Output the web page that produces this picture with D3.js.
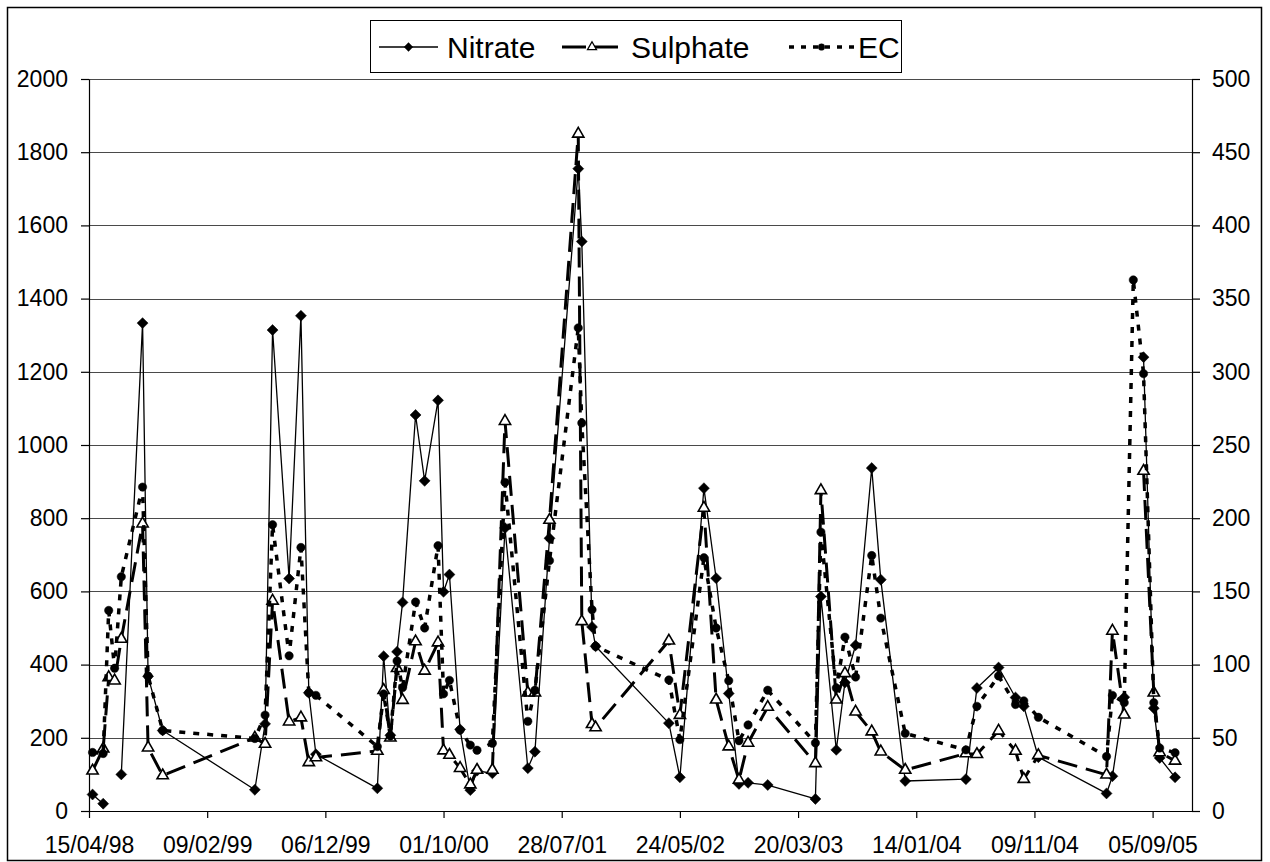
<!DOCTYPE html>
<html><head><meta charset="utf-8">
<script src="https://cdn.jsdelivr.net/npm/d3@7"></script>
<style>
html,body{margin:0;padding:0;background:#fff;}
svg{display:block;font-family:"Liberation Sans",Arial,sans-serif;}
</style></head><body>
<svg id="chart" width="1270" height="862"></svg>
<script>
// ---- data ----
const dates = [
 "1998-04-24","1998-05-21","1998-06-04","1998-06-19","1998-07-06","1998-08-29","1998-09-12","1998-10-19",
 "1999-06-10","1999-07-06","1999-07-25","1999-09-05","1999-10-05","1999-10-25","1999-11-12",
 "2000-04-16","2000-05-02","2000-05-19","2000-06-05","2000-06-19","2000-07-22","2000-08-14","2000-09-17",
 "2000-10-01","2000-10-16","2000-11-12","2000-12-08","2000-12-25",
 "2001-02-02","2001-03-06","2001-05-03","2001-05-21","2001-06-27","2001-09-08","2001-09-17","2001-10-13","2001-10-22",
 "2002-04-26","2002-05-24","2002-07-24","2002-08-24","2002-09-25","2002-10-21","2002-11-13",
 "2003-01-02","2003-05-03","2003-05-17","2003-06-25","2003-07-17","2003-08-13","2003-09-23","2003-10-16","2003-12-17",
 "2004-05-19","2004-06-16","2004-08-10","2004-09-22","2004-10-13","2004-11-19",
 "2005-05-11","2005-05-26","2005-06-25","2005-07-18","2005-08-13","2005-09-08","2005-09-23","2005-11-01"
];
const nitrate = [
 45,20,null,null,100,1333,368,220,
 58,238,1314,635,1353,323,155,
 62,423,207,435,570,1082,902,1122,
 599,646,223,57,110,
 103,773,117,162,745,1755,1556,503,450,
 240,92,882,636,321,74,77,
 71,33,586,167,351,453,937,632,82,
 87,336,392,310,286,147,
 48,95,311,null,1240,281,145,92
];
const sulphate = [
 110,170,365,356,470,785,173,97,
 200,183,574,244,255,133,146,
 164,330,200,390,303,463,383,460,
 165,153,117,72,112,
 112,1065,323,323,795,1850,518,237,228,
 465,262,828,304,176,85,186,
 284,130,876,304,376,271,217,162,112,
 157,155,219,164,87,152,
 99,492,263,null,929,323,160,137
];
const ec = [
 160,157,548,390,640,885,369,220,
 198,262,782,424,720,323,316,
 176,320,205,410,337,571,500,725,
 320,357,221,180,166,
 185,898,245,330,684,1320,1060,550,450,
 358,195,692,500,356,192,235,
 330,186,762,336,475,366,698,527,212,
 167,286,369,291,301,256,
 149,316,296,1451,1195,296,172,159
];
const seriesNames = ["Nitrate","Sulphate","EC"];
const xTickLabels = ["15/04/98","09/02/99","06/12/99","01/10/00","28/07/01","24/05/02","20/03/03","14/01/04","09/11/04","05/09/05"];
const leftTicks = [0,200,400,600,800,1000,1200,1400,1600,1800,2000];
const rightTicks = [0,50,100,150,200,250,300,350,400,450,500];

// ---- layout ----
const svg = d3.select("#chart");
const P = {left:89, right:1192, top:79, bottom:811};
const parse = d3.utcParse("%Y-%m-%d");
const start = parse("1998-04-15");
const x = d3.scaleUtc().domain([start, d3.utcDay.offset(start, 2800)]).range([P.left, P.right]);
const y = d3.scaleLinear().domain([0, 2000]).range([P.bottom, P.top]);
const y2 = d3.scaleLinear().domain([0, 500]).range([P.bottom, P.top]);
const tickDates = xTickLabels.map((_, i) => d3.utcDay.offset(start, i * 300));

svg.append("rect").attr("x",0).attr("y",0).attr("width",1270).attr("height",862).attr("fill","#fff");
svg.append("rect").attr("x",7.5).attr("y",7.5).attr("width",1254).attr("height",853)
  .attr("fill","none").attr("stroke","#000").attr("stroke-width",1.5);

// gridlines
svg.append("g").selectAll("line").data(leftTicks.filter(t => t > 0)).join("line")
  .attr("x1", P.left).attr("x2", P.right)
  .attr("y1", d => Math.round(y(d)) + 0.5).attr("y2", d => Math.round(y(d)) + 0.5)
  .attr("stroke", "#4a4a4a").attr("stroke-width", 1);

// axes
const fontSize = 23;
const gL = svg.append("g").attr("transform", `translate(${P.left},0)`)
  .call(d3.axisLeft(y).tickValues(leftTicks).tickFormat(d3.format("d"))
    .tickSize(8).tickSizeOuter(0).tickPadding(13));
const gR = svg.append("g").attr("transform", `translate(${P.right},0)`)
  .call(d3.axisRight(y2).tickValues(rightTicks).tickFormat(d3.format("d"))
    .tickSize(8).tickSizeOuter(0).tickPadding(12));
const gB = svg.append("g").attr("transform", `translate(0,${P.bottom})`)
  .call(d3.axisBottom(x).tickValues(tickDates).tickSize(7).tickSizeOuter(0).tickPadding(19)
    .tickFormat((d, i) => xTickLabels[i]));
[gL, gR, gB].forEach(g => {
  g.selectAll("text").attr("font-size", fontSize).attr("fill", "#000")
    .attr("font-family", '"Liberation Sans",Arial,sans-serif');
  g.selectAll("line,path").attr("stroke", "#000").attr("stroke-width", 1.2);
});

// series
const rows = dates.map((d, i) => ({date: parse(d), n: nitrate[i], s: sulphate[i], e: ec[i]}));
function lineFor(key) {
  return d3.line().defined(d => d[key] != null).x(d => x(d.date)).y(d => y(d[key]));
}
const diamond = d3.symbol().type(d3.symbolSquare).size(60)();
const triangle = d3.symbol().type(d3.symbolTriangle).size(55)();
const circle = d3.symbol().type(d3.symbolCircle).size(55)();

const styles = {
  n: {dash: null, width: 1.3, marker: diamond, rot: 45, fill: "#000", mstroke: "#000", mw: 0.5},
  s: {dash: "20,9", width: 3, marker: triangle, rot: 0, fill: "#fff", mstroke: "#000", mw: 1.6},
  e: {dash: "6,8", width: 3.5, marker: circle, rot: 0, fill: "#000", mstroke: "#000", mw: 0.5}
};
["n", "s", "e"].forEach(key => {
  const st = styles[key];
  const g = svg.append("g");
  g.append("path").datum(rows).attr("d", lineFor(key)).attr("fill", "none")
    .attr("stroke", "#000").attr("stroke-width", st.width)
    .attr("stroke-dasharray", st.dash).attr("stroke-linejoin", "round");
  g.selectAll("path.m").data(rows.filter(r => r[key] != null)).join("path").attr("class", "m")
    .attr("d", st.marker)
    .attr("transform", d => `translate(${x(d.date)},${y(d[key])}) rotate(${st.rot})`)
    .attr("fill", st.fill).attr("stroke", st.mstroke).attr("stroke-width", st.mw);
});

// legend
const L = svg.append("g");
L.append("rect").attr("x", 370.5).attr("y", 20.5).attr("width", 531).attr("height", 52)
  .attr("fill", "#fff").attr("stroke", "#000").attr("stroke-width", 1);
const legendItems = [
  {key: "n", x0: 379, x1: 438, tx: 447},
  {key: "s", x0: 562, x1: 622, tx: 631},
  {key: "e", x0: 789, x1: 854, tx: 858}
];
const ly = 47;
legendItems.forEach((it, i) => {
  const st = styles[it.key];
  L.append("line").attr("x1", it.x0).attr("x2", it.x1).attr("y1", ly).attr("y2", ly)
    .attr("stroke", "#000").attr("stroke-width", st.width)
    .attr("stroke-dasharray", it.key === "s" ? "24,8" : (it.key === "e" ? "5,7" : null));
  L.append("path").attr("d", st.marker)
    .attr("transform", `translate(${(it.x0 + it.x1) / 2},${ly}) rotate(${st.rot}) scale(0.8)`)
    .attr("fill", st.fill).attr("stroke", st.mstroke).attr("stroke-width", st.mw);
  L.append("text").attr("x", it.tx).attr("y", ly).attr("dy", "0.35em")
    .attr("font-size", 30).attr("fill", "#000").text(seriesNames[i]);
});
</script>
</body></html>
